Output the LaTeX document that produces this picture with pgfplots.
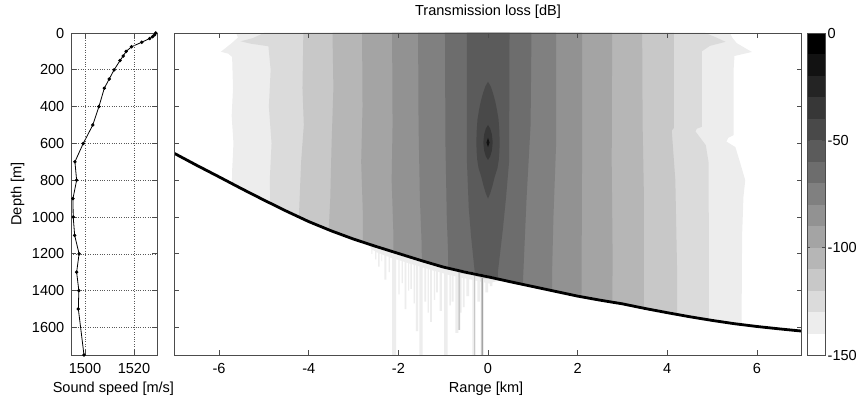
\documentclass[border=0pt]{standalone}
\usepackage{fontspec}
\setmainfont{Liberation Sans}
\usepackage{pgfplots}
\pgfplotsset{compat=1.18}
\definecolor{tl0}{gray}{0}
\definecolor{tl1}{gray}{0.0714}
\definecolor{tl2}{gray}{0.1429}
\definecolor{tl3}{gray}{0.2143}
\definecolor{tl4}{gray}{0.2857}
\definecolor{tl5}{gray}{0.3571}
\definecolor{tl6}{gray}{0.4286}
\definecolor{tl7}{gray}{0.5}
\definecolor{tl8}{gray}{0.5714}
\definecolor{tl9}{gray}{0.6429}
\definecolor{tl10}{gray}{0.7143}
\definecolor{tl11}{gray}{0.7857}
\definecolor{tl12}{gray}{0.8571}
\definecolor{tl13}{gray}{0.9286}
\definecolor{tl14}{gray}{1}
\definecolor{frame}{gray}{0.3}
\newcommand{\chartfont}{\fontsize{14.6}{17}\selectfont}
\pgfplotsset{
  myframe/.style={
    scale only axis,
    height=322bp,
    font=\chartfont,
    tick label style={font=\chartfont},
    label style={font=\chartfont},
    title style={font=\chartfont},
    axis line style={draw=frame, line width=0.7bp},
    every tick/.style={draw=frame, line width=0.7bp},
    tick align=inside,
    major tick length=5bp,
    anchor=south west,
    xticklabel style={anchor=north, inner sep=0pt, yshift=-8bp},
  },
}
\begin{document}
\chartfont
\begin{tikzpicture}
\useasboundingbox (0,0) rectangle (859bp,399bp);
% ---------------- sound speed profile ----------------
\begin{axis}[myframe,
  at={(71bp,44bp)}, width=86bp,
  xmin=1494.3, xmax=1529.4, ymin=0, ymax=1750, y dir=reverse,
  xtick={1500,1520}, xticklabels={1500,1520},
  ytick={0,200,400,600,800,1000,1200,1400,1600},
  yticklabels={0,200,400,600,800,1000,1200,1400,1600},
  yticklabel style={anchor=east, inner sep=0pt, xshift=-6.5bp},
  grid=major, grid style={dotted, black!65, line width=0.6bp},
  xlabel={Sound speed [m/s]},
  xlabel style={at={(axis description cs:0.493,-0.118)}, anchor=base, inner sep=0pt},
  ylabel={Depth [m]},
  ylabel style={at={(axis description cs:-0.5756,0.5)}, anchor=base, inner sep=0pt},
  axis on top]
\addplot[black, line width=0.8bp, mark=*, mark size=1.3bp] coordinates {
(1528.9,0) (1528.4,10) (1527.6,20) (1526.4,30) (1523.2,50) (1519.0,75)
(1516.8,100) (1515.6,125) (1514.3,150) (1511.9,200) (1509.9,250) (1507.9,300)
(1505.7,400) (1503.2,500) (1499.3,600) (1495.9,700) (1496.6,800) (1495.1,900)
(1495.2,1000) (1495.8,1100) (1497.6,1200) (1496.6,1300) (1497.5,1400)
(1497.3,1500) (1499.6,1750)};
\end{axis}
% ---------------- transmission loss field ----------------
\begin{axis}[myframe,
  at={(174.3bp,44bp)}, width=627.4bp,
  xmin=-7, xmax=7, ymin=0, ymax=1750, y dir=reverse,
  xtick={-6,-4,-2,0,2,4,6}, xticklabels={-6,-4,-2,0,2,4,6},
  ytick={0,200,400,600,800,1000,1200,1400,1600},
  yticklabels={{},{},{},{},{},{},{},{},{}},
  xlabel={Range [km]},
  xlabel style={at={(axis description cs:0.497,-0.118)}, anchor=base, inner sep=0pt},
  title={Transmission loss [dB]},
  title style={at={(axis description cs:0.5,1.0351)}, anchor=base, inner sep=0pt},
  axis on top]
% nested level regions
\addplot[fill=tl13, draw=none] coordinates {
(-5.62,0) (-5.58,25) (-5.72,55) (-5.96,102) (-5.80,112) (-5.71,130) (-5.69,300)
(-5.72,450) (-5.68,600) (-5.71,750) (-5.72,900) (-5.72,1750)
(5.66,1750) (5.66,1490) (5.67,1100) (5.70,890) (5.74,800) (5.62,700) (5.52,620)
(5.32,590) (5.36,570) (5.48,555) (5.48,200) (5.50,125) (5.89,103) (5.78,88)
(5.55,55) (5.45,25) (5.40,0)} -- cycle;
\addplot[fill=tl12, draw=none] coordinates {
(-5.00,0) (-5.25,28) (-5.52,45) (-5.30,58) (-4.90,72) (-4.85,200) (-4.89,400)
(-4.83,600) (-4.87,800) (-4.85,1000) (-4.85,1750)
(4.93,1750) (4.93,1200) (4.92,700) (4.86,610) (4.63,535) (4.66,520) (4.77,510)
(4.77,100) (4.95,70) (5.30,48) (5.10,25) (4.85,0)} -- cycle;
\addplot[fill=tl11, draw=none] coordinates {
(-4.12,0) (-4.14,300) (-4.11,500) (-4.17,700) (-4.22,1000) (-4.25,1750)
(4.22,1750) (4.22,1300) (4.18,800) (4.10,530) (4.15,515) (4.15,0)} -- cycle;
\addplot[fill=tl10, draw=none] coordinates {
(-3.47,0) (-3.45,300) (-3.49,600) (-3.52,900) (-3.56,1100) (-3.56,1750)
(3.48,1750) (3.48,900) (3.45,500) (3.44,0)} -- cycle;
\addplot[fill=tl9, draw=none] coordinates {
(-2.81,0) (-2.80,400) (-2.83,700) (-2.79,1000) (-2.79,1750)
(2.77,1750) (2.78,1200) (2.76,700) (2.77,0)} -- cycle;
\addplot[fill=tl8, draw=none] coordinates {
(-2.14,0) (-2.13,500) (-2.15,800) (-2.11,1100) (-2.11,1750)
(2.08,1750) (2.09,1200) (2.10,600) (2.10,0)} -- cycle;
\addplot[fill=tl7, draw=none] coordinates {
(-1.56,0) (-1.55,500) (-1.52,900) (-1.48,1150) (-1.46,1750)
(1.42,1750) (1.43,1300) (1.46,1000) (1.52,600) (1.52,0)} -- cycle;
\addplot[fill=tl6, draw=none] coordinates {
(-0.96,0) (-0.95,600) (-0.92,1000) (-0.89,1200) (-0.87,1750)
(0.77,1750) (0.78,1350) (0.86,900) (0.95,500) (0.97,0)} -- cycle;
\addplot[fill=tl5, draw=none] coordinates {
(-0.47,0) (-0.47,700) (-0.43,950) (-0.38,1100) (-0.30,1290) (-0.28,1750)
(0.22,1750) (0.22,1300) (0.33,1070) (0.40,900) (0.47,700) (0.48,0)} -- cycle;
\addplot[fill=tl4, draw=none] coordinates {
(0,265) (0.06,290) (0.11,326) (0.16,370) (0.20,418) (0.235,470) (0.252,530)
(0.26,590) (0.255,640) (0.24,690) (0.21,735) (0.15,781) (0.10,830) (0.05,871)
(0,900) (-0.05,871) (-0.10,830) (-0.15,781) (-0.21,735) (-0.24,690) (-0.255,640)
(-0.26,590) (-0.252,530) (-0.235,470) (-0.20,418) (-0.16,370) (-0.11,326) (-0.06,290)} -- cycle;
\addplot[fill=tl3, draw=none] coordinates {
(0,500) (0.05,520) (0.085,550) (0.105,595) (0.085,640) (0.05,670) (0,690)
(-0.05,670) (-0.085,640) (-0.105,595) (-0.085,550) (-0.05,520)} -- cycle;
\addplot[fill=tl1, draw=none] coordinates {
(0,570) (0.035,595) (0,620) (-0.035,595)} -- cycle;
% seabed: white below the bottom
\addplot[fill=white, draw=none] coordinates {
(-7.1,641) (-7,654) (-6.5,719) (-6,782) (-5.5,846) (-5,908) (-4.5,968) (-4,1025)
(-3.5,1075) (-3,1120) (-2.5,1160) (-2,1198) (-1.5,1236) (-1,1272) (-0.5,1300)
(0,1325) (0.5,1352) (1,1378) (1.5,1404) (2,1430) (2.5,1452) (3,1472) (3.5,1497)
(4,1520) (4.5,1542) (5,1562) (5.5,1580) (6,1595) (6.5,1608) (7,1620) (7.1,1622)
(7.1,1760) (-7.1,1760)} -- cycle;
% streaks of energy below the bottom
\addplot[fill=tl13, draw=none] coordinates {
(-2.65,1150)
(-2.60,1175) (-2.60,1200) (-2.58,1200) (-2.58,1178)
(-2.52,1185) (-2.52,1230) (-2.49,1230) (-2.49,1190)
(-2.45,1195) (-2.45,1270) (-2.42,1270) (-2.42,1198)
(-2.38,1200) (-2.38,1240) (-2.36,1240) (-2.36,1203)
(-2.31,1208) (-2.31,1340) (-2.27,1340) (-2.27,1212)
(-2.22,1216) (-2.22,1300) (-2.19,1300) (-2.19,1220)
(-2.14,1223) (-2.14,1750) (-2.05,1750) (-2.05,1230)
(-2.00,1233) (-2.00,1420) (-1.97,1420) (-1.97,1236)
(-1.93,1238) (-1.93,1360) (-1.90,1360) (-1.90,1241)
(-1.86,1244) (-1.86,1500) (-1.82,1500) (-1.82,1247)
(-1.78,1250) (-1.78,1400) (-1.76,1400) (-1.76,1252)
(-1.73,1254) (-1.73,1390) (-1.70,1390) (-1.70,1256)
(-1.66,1259) (-1.66,1470) (-1.63,1470) (-1.63,1261)
(-1.61,1263) (-1.61,1620) (-1.56,1620) (-1.56,1266)
(-1.53,1268) (-1.53,1750) (-1.46,1750) (-1.46,1274)
(-1.42,1276) (-1.42,1460) (-1.38,1460) (-1.38,1279)
(-1.35,1281) (-1.35,1520) (-1.32,1520) (-1.32,1283)
(-1.29,1286) (-1.29,1570) (-1.25,1570) (-1.25,1289)
(-1.21,1292) (-1.21,1450) (-1.18,1450) (-1.18,1294)
(-1.16,1295) (-1.16,1410) (-1.12,1410) (-1.12,1298)
(-1.08,1300) (-1.08,1510) (-1.03,1510) (-1.03,1304)
(-0.98,1307) (-0.98,1750) (-0.90,1750) (-0.90,1313)
(-0.86,1315) (-0.86,1480) (-0.83,1480) (-0.83,1317)
(-0.81,1318) (-0.81,1460) (-0.77,1460) (-0.77,1320)
(-0.73,1322) (-0.73,1630) (-0.66,1630) (-0.66,1326)
(-0.62,1328) (-0.62,1520) (-0.59,1520) (-0.59,1330)
(-0.56,1331) (-0.56,1490) (-0.52,1490) (-0.52,1333)
(-0.48,1335) (-0.48,1430) (-0.42,1430) (-0.42,1338)
(-0.35,1341) (-0.35,1750) (-0.28,1750) (-0.28,1345)
(-0.24,1347) (-0.24,1460) (-0.18,1460) (-0.18,1350)
(-0.14,1352) (-0.14,1750) (-0.09,1750) (-0.09,1355)
(-0.06,1357) (-0.06,1410) (0.0,1410) (0.0,1360)
(0.04,1362) (0.04,1375) (0.10,1375) (0.10,1355)
(0.25,1345) (0.25,1333) (0,1320) (-0.5,1295) (-1,1267) (-1.5,1231) (-2,1193)
(-2.5,1155) (-2.65,1143)} -- cycle;
\addplot[fill=tl11, draw=none] coordinates {
(-0.80,1285) (-0.66,1300) (-0.66,1614) (-0.62,1614) (-0.62,1305) (-0.45,1312)
(-0.31,1318) (-0.31,1750) (-0.29,1750) (-0.29,1320) (-0.16,1330) (-0.16,1750)
(-0.13,1750) (-0.13,1333) (0.0,1335) (0.0,1318) (-0.4,1298) (-0.8,1278)} -- cycle;
\addplot[fill=tl9, draw=none] coordinates {
(-0.125,1330) (-0.125,1750) (-0.112,1750) (-0.112,1330)} -- cycle;
% bottom
\addplot[black, line width=2.8bp] coordinates {
(-7,654) (-6.5,719) (-6,782) (-5.5,846) (-5,908) (-4.5,968) (-4,1025)
(-3.5,1075) (-3,1120) (-2.5,1160) (-2,1198) (-1.5,1236) (-1,1272) (-0.5,1300)
(0,1325) (0.5,1352) (1,1378) (1.5,1404) (2,1430) (2.5,1452) (3,1472) (3.5,1497)
(4,1520) (4.5,1542) (5,1562) (5.5,1580) (6,1595) (6.5,1608) (7,1620)};
\end{axis}
% ---------------- colour bar ----------------
\begin{axis}[myframe,
  at={(807.3bp,44bp)}, width=17.7bp,
  xmin=0, xmax=1, ymin=-150, ymax=0,
  xtick=\empty,
  ytick={-150,-100,-50,0}, yticklabels={-150,-100,-50,0},
  yticklabel pos=right,
  yticklabel style={anchor=west, inner sep=0pt, xshift=2.5bp},
  major tick length=3bp,
  axis on top]
\addplot[fill=tl0, draw=none] coordinates {(0,0) (1,0) (1,-10) (0,-10)} -- cycle;
\addplot[fill=tl1, draw=none] coordinates {(0,-10) (1,-10) (1,-20) (0,-20)} -- cycle;
\addplot[fill=tl2, draw=none] coordinates {(0,-20) (1,-20) (1,-30) (0,-30)} -- cycle;
\addplot[fill=tl3, draw=none] coordinates {(0,-30) (1,-30) (1,-40) (0,-40)} -- cycle;
\addplot[fill=tl4, draw=none] coordinates {(0,-40) (1,-40) (1,-50) (0,-50)} -- cycle;
\addplot[fill=tl5, draw=none] coordinates {(0,-50) (1,-50) (1,-60) (0,-60)} -- cycle;
\addplot[fill=tl6, draw=none] coordinates {(0,-60) (1,-60) (1,-70) (0,-70)} -- cycle;
\addplot[fill=tl7, draw=none] coordinates {(0,-70) (1,-70) (1,-80) (0,-80)} -- cycle;
\addplot[fill=tl8, draw=none] coordinates {(0,-80) (1,-80) (1,-90) (0,-90)} -- cycle;
\addplot[fill=tl9, draw=none] coordinates {(0,-90) (1,-90) (1,-100) (0,-100)} -- cycle;
\addplot[fill=tl10, draw=none] coordinates {(0,-100) (1,-100) (1,-110) (0,-110)} -- cycle;
\addplot[fill=tl11, draw=none] coordinates {(0,-110) (1,-110) (1,-120) (0,-120)} -- cycle;
\addplot[fill=tl12, draw=none] coordinates {(0,-120) (1,-120) (1,-130) (0,-130)} -- cycle;
\addplot[fill=tl13, draw=none] coordinates {(0,-130) (1,-130) (1,-140) (0,-140)} -- cycle;
\addplot[fill=tl14, draw=none] coordinates {(0,-140) (1,-140) (1,-150) (0,-150)} -- cycle;
\end{axis}
\end{tikzpicture}
\end{document}
